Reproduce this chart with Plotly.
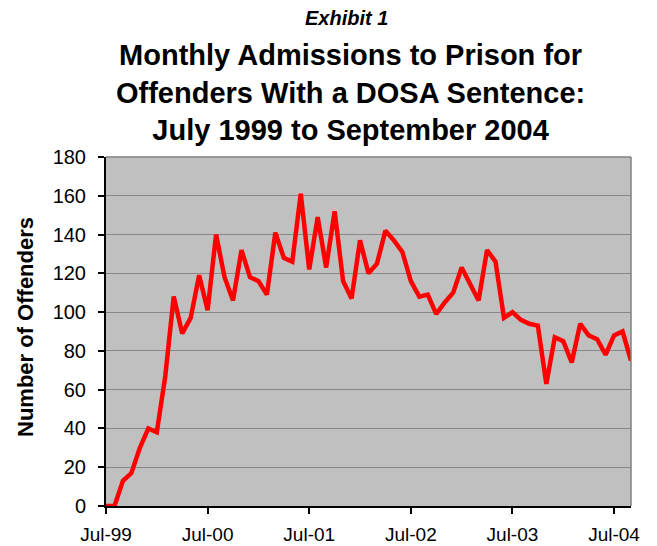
import plotly.graph_objects as go
import pandas as pd

months = [d.strftime("%b-%y") for d in pd.date_range("1999-07-01", "2004-09-01", freq="MS")]
admissions = [0, 0, 13, 17, 30, 40, 38, 67, 108, 89, 97, 119,
              101, 140, 118, 106, 132, 118, 116, 109, 141, 128, 126, 161,
              122, 149, 123, 152, 116, 107, 137, 120, 125, 142, 137, 131,
              116, 108, 109, 99, 105, 110, 123, 115, 106, 132, 126, 97,
              100, 96, 94, 93, 63, 87, 85, 74, 94, 88, 86, 78,
              88, 90, 75]
tick_labels = ["Jul-99", "Jul-00", "Jul-01", "Jul-02", "Jul-03", "Jul-04"]
y_ticks = list(range(0, 181, 20))

FONT = "Liberation Sans, Arial, sans-serif"

# page body has an 8px default margin; plot area targeted at page px 106..631 x 157..506
fig = go.Figure()
fig.add_trace(go.Scatter(x=months, y=admissions, mode="lines",
                         line=dict(color="#FF0000", width=4.5),
                         hoverinfo="x+y", showlegend=False))

fig.update_layout(
    width=649, height=538,
    margin=dict(l=98, r=26, t=149, b=40, autoexpand=False),
    paper_bgcolor="white", plot_bgcolor="#C0C0C0",
    font=dict(family=FONT, color="black", size=20),
    xaxis=dict(type="category", range=[0, len(months) - 1], automargin=False,
               tickmode="array", tickvals=tick_labels, ticktext=tick_labels,
               showgrid=False, showline=True, linecolor="black", linewidth=2,
               ticks="outside", ticklen=6, tickwidth=1.5, tickcolor="black",
               tickfont=dict(size=19), ticklabelstandoff=4, zeroline=False),
    yaxis=dict(range=[0, 180], tickmode="array", tickvals=y_ticks, automargin=False,
               showgrid=True, gridcolor="#888888", gridwidth=1,
               showline=True, linecolor="black", linewidth=2,
               ticks="outside", ticklen=6, tickwidth=1.5, tickcolor="black",
               tickfont=dict(size=20), ticklabelstandoff=8, zeroline=False),
    shapes=[
        dict(type="line", xref="x domain", yref="y domain", x0=0, x1=1, y0=1, y1=1,
             line=dict(color="#808080", width=1.5)),
        dict(type="line", xref="x domain", yref="y domain", x0=1, x1=1, y0=0, y1=1,
             line=dict(color="#808080", width=1.5)),
    ],
    annotations=[
        dict(text="<b><i>Exhibit 1</i></b>", xref="paper", yref="paper",
             x=(346 - 106) / 525, y=(506 - 18) / 349, xanchor="center", yanchor="middle",
             showarrow=False, font=dict(size=20, family=FONT)),
        dict(text="<b>Monthly Admissions to Prison for<br>Offenders With a DOSA Sentence:<br>July 1999 to September 2004</b>",
             xref="paper", yref="paper",
             x=(350 - 106) / 525, y=(506 - 93) / 349, xanchor="center", yanchor="middle",
             showarrow=False, font=dict(size=29, family=FONT)),
        dict(text="<b>Number of Offenders</b>", xref="paper", yref="paper",
             x=(25 - 106) / 525, y=(506 - 327) / 349, xanchor="center", yanchor="middle",
             textangle=-90, showarrow=False, font=dict(size=22, family=FONT)),
    ],
)

fig.write_html("out.html")
